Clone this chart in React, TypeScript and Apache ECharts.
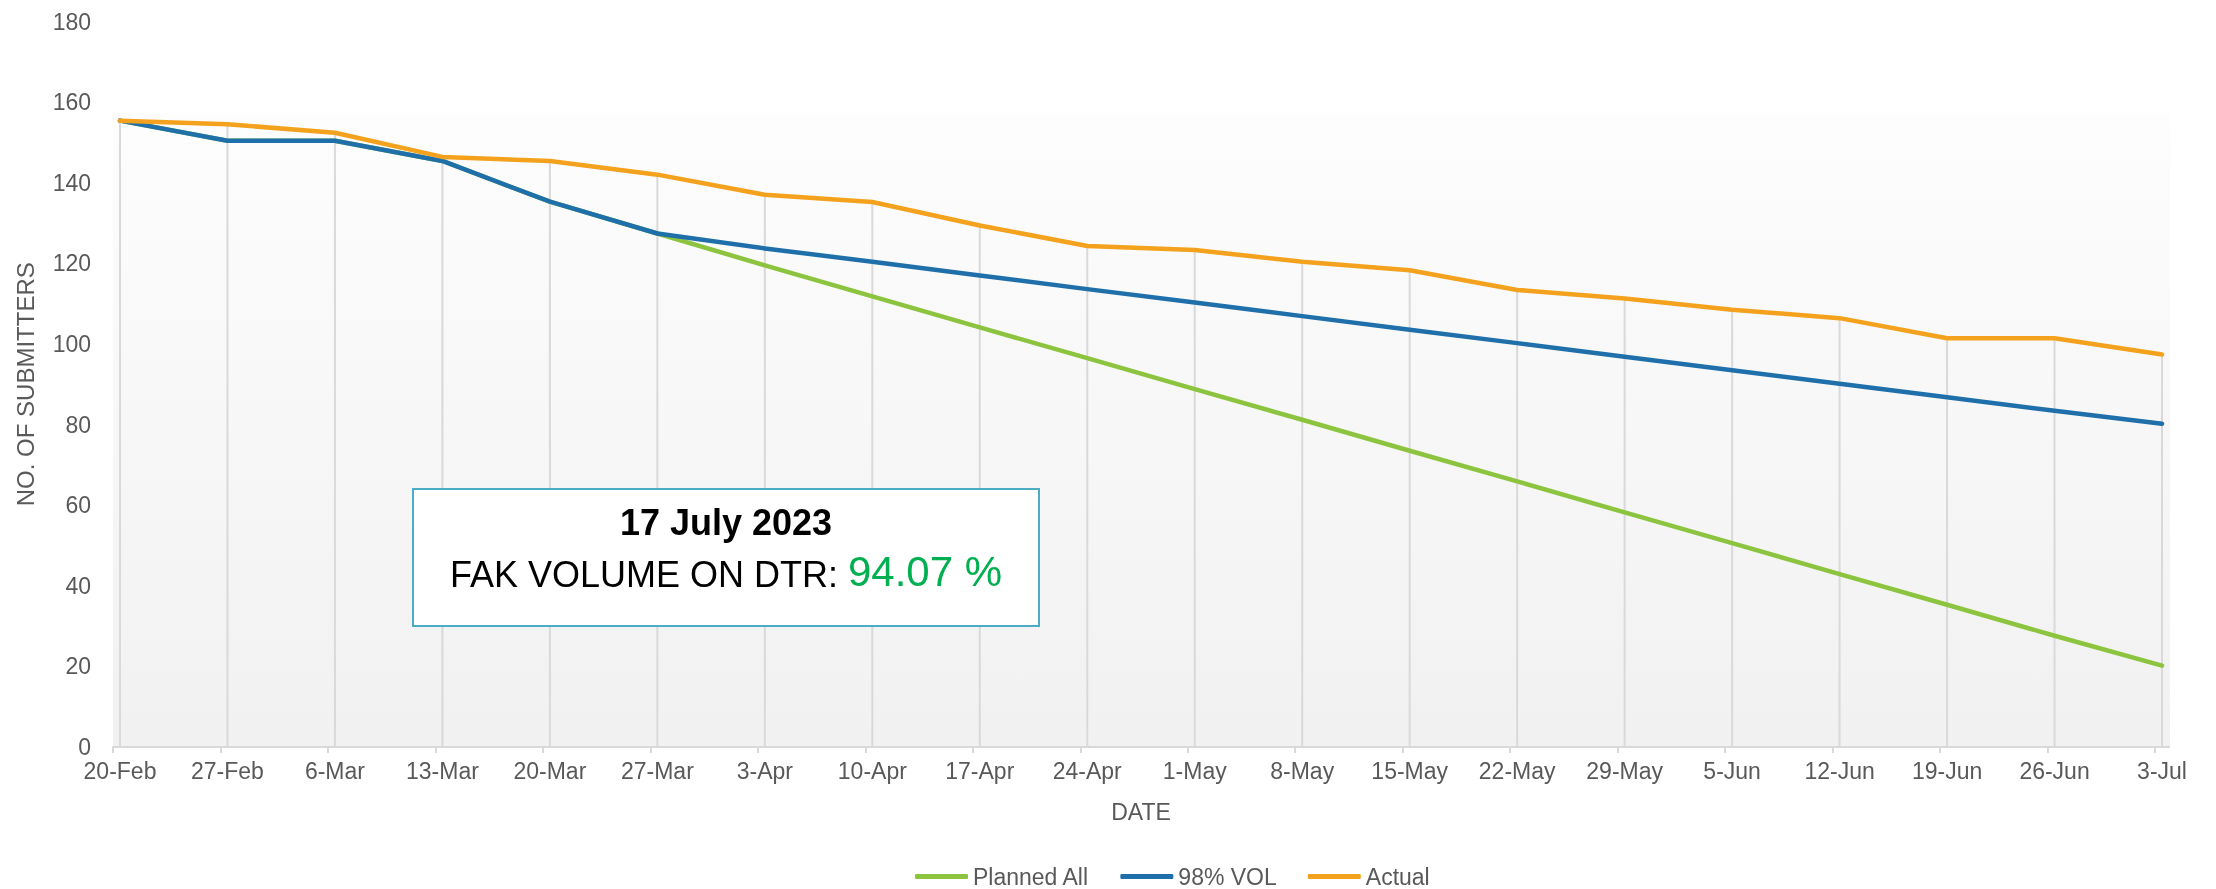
import React, { useEffect, useRef } from "react";
import * as echarts from "echarts";

const dates = ["20-Feb", "27-Feb", "6-Mar", "13-Mar", "20-Mar", "27-Mar", "3-Apr", "10-Apr", "17-Apr", "24-Apr", "1-May", "8-May", "15-May", "22-May", "29-May", "5-Jun", "12-Jun", "19-Jun", "26-Jun", "3-Jul"];
const plannedAll = [155.4, 150.4, 150.4, 145.4, 135.3, 127.4, 119.5, 111.8, 104.1, 96.5, 88.8, 81.2, 73.5, 65.9, 58.2, 50.6, 42.9, 35.3, 27.6, 20.2];
const vol98 = [155.4, 150.4, 150.4, 145.4, 135.3, 127.4, 123.7, 120.4, 117.0, 113.6, 110.3, 106.9, 103.5, 100.2, 96.8, 93.5, 90.1, 86.8, 83.4, 80.2];
const actual = [155.4, 154.5, 152.4, 146.4, 145.4, 142.0, 137.0, 135.2, 129.4, 124.3, 123.3, 120.4, 118.3, 113.4, 111.3, 108.5, 106.4, 101.4, 101.4, 97.4];
const yTicks = { min: 0, max: 180, interval: 20 };
const seriesNames = ["Planned All", "98% VOL", "Actual"];
const boxDate = "17 July 2023";
const boxLabel = "FAK VOLUME ON DTR: ";
const boxValue = "94.07 %";

const FONT = "'Liberation Sans', Arial, sans-serif";
const GRAY = "#595959";
const COLORS = ["#8cc43f", "#1f6fab", "#f4a11d"];

export default function App() {
  const ref = useRef<HTMLDivElement>(null);
  useEffect(() => {
    if (!ref.current) return;
    const chart = echarts.init(ref.current, undefined, { renderer: "svg" });
    const pad = 0.065;
    const tickVals = dates.map((_, i) => i - pad);
    const labelVals = dates.map((_, i) => i);
    const mk = (vals: number[]) => vals.map((v, i) => [i, v]);
    chart.setOption({
      animation: false,
      textStyle: { fontFamily: FONT },
      grid: { left: 113, right: 47, top: 21.5, bottom: 142, containLabel: false },
      xAxis: {
        type: "value",
        min: -pad,
        max: dates.length - 1 + pad,
        name: "DATE",
        nameLocation: "middle",
        nameGap: 53,
        nameTextStyle: { color: GRAY, fontSize: 23, fontFamily: FONT },
        axisLine: { show: true, lineStyle: { color: "#d9d9d9", width: 2 } },
        axisTick: { show: true, customValues: tickVals, length: 6, lineStyle: { color: "#d9d9d9", width: 2 } },
        axisLabel: {
          customValues: labelVals,
          formatter: (v: number) => dates[Math.round(v)] ?? "",
          color: GRAY,
          fontSize: 23,
          fontFamily: FONT,
          margin: 12,
        },
        splitLine: { show: false },
      },
      yAxis: {
        type: "value",
        min: yTicks.min,
        max: yTicks.max,
        interval: yTicks.interval,
        name: "NO. OF SUBMITTERS",
        nameLocation: "middle",
        nameGap: 76,
        nameTextStyle: { color: GRAY, fontSize: 24, fontFamily: FONT },
        axisLine: { show: false },
        axisTick: { show: false },
        splitLine: { show: false },
        axisLabel: { color: GRAY, fontSize: 23, fontFamily: FONT, margin: 22 },
      },
      legend: {
        data: seriesNames,
        left: 915,
        top: 865,
        padding: 0,
        icon: "roundRect",
        itemWidth: 53,
        itemHeight: 5,
        itemGap: 31,
        textStyle: { color: GRAY, fontSize: 23, fontFamily: FONT },
      },
      graphic: [
        {
          type: "rect",
          z: -10,
          silent: true,
          shape: { x: 113, y: 113, width: 2057, height: 633 },
          style: {
            fill: new echarts.graphic.LinearGradient(0, 0, 0, 1, [
              { offset: 0, color: "#fdfdfd" },
              { offset: 1, color: "#f1f1f1" },
            ]),
          },
        },
        {
          type: "group",
          z: 100,
          children: [
            {
              type: "rect",
              z: 100,
              shape: { x: 413, y: 489, width: 626, height: 137 },
              style: { fill: "#ffffff", stroke: "#4bacc6", lineWidth: 2 },
            },
            {
              type: "text",
              z: 101,
              x: 726,
              y: 522,
              style: {
                text: boxDate,
                fill: "#000000",
                font: `bold 36px ${FONT}`,
                align: "center",
                verticalAlign: "middle",
              },
            },
            {
              type: "text",
              z: 101,
              x: 726,
              y: 592,
              style: {
                text: `{a|${boxLabel}}{b|${boxValue}}`,
                align: "center",
                verticalAlign: "bottom",
                rich: {
                  a: { fontSize: 36, fontFamily: FONT, fill: "#000000", verticalAlign: "bottom" },
                  b: { fontSize: 42, fontFamily: FONT, fill: "#00b050", verticalAlign: "bottom" },
                },
              },
            },
          ],
        },
      ],
      series: [
        {
          type: "custom",
          name: "drop",
          z: 1,
          silent: true,
          data: mk(actual),
          encode: { x: 0, y: 1 },
          renderItem: (_p: any, api: any) => {
            const x = api.value(0);
            const top = api.coord([x, api.value(1)]);
            const bot = api.coord([x, 0]);
            return {
              type: "line",
              shape: { x1: top[0], y1: top[1], x2: bot[0], y2: bot[1] },
              style: { stroke: "#d9d9d9", lineWidth: 2 },
            };
          },
        },
        ...[plannedAll, vol98, actual].map((vals, k) => ({
          type: "line",
          name: seriesNames[k],
          data: mk(vals),
          symbol: "none",
          z: 2 + k,
          color: COLORS[k],
          lineStyle: { color: COLORS[k], width: 4.5, cap: "round", join: "round" },
        })),
      ],
    });
    return () => chart.dispose();
  }, []);
  return <div ref={ref} style={{ position: "fixed", left: 0, top: 0, width: 2216, height: 889 }} />;
}
